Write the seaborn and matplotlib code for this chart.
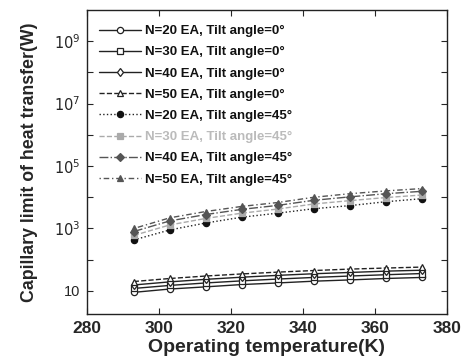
import numpy as np
import pandas as pd
import matplotlib
matplotlib.use("Agg")
import matplotlib.pyplot as plt
import seaborn as sns
from matplotlib.ticker import FixedLocator, FixedFormatter, NullLocator

sns.set_style("ticks")
plt.rcParams['font.family'] = ['Liberation Sans', 'DejaVu Sans']

temperature = [293, 303, 313, 323, 333, 343, 353, 363, 373]

n20_t0 = [9.0, 11.5, 13.5, 16.0, 18.0, 20.5, 22.5, 25.0, 27.0]
n30_t0 = [12.0, 15.0, 18.0, 21.0, 24.0, 27.0, 30.0, 33.0, 36.0]
n40_t0 = [15.5, 19.5, 23.5, 27.5, 31.5, 35.5, 39.0, 43.0, 46.0]
n50_t0 = [20.0, 25.0, 30.0, 35.0, 40.0, 45.0, 50.0, 54.0, 58.0]

n20_t45 = [430, 900, 1500, 2300, 3100, 4300, 5400, 7200, 9000]
n30_t45 = [600, 1300, 2100, 3100, 4200, 6100, 7800, 9800, 11800]
n40_t45 = [800, 1750, 2800, 4100, 5500, 8000, 10300, 13000, 15500]
n50_t45 = [1000, 2200, 3500, 5100, 6800, 10000, 13000, 16000, 19000]

labels = ["N=20 EA, Tilt angle=0\u00b0", "N=30 EA, Tilt angle=0\u00b0",
          "N=40 EA, Tilt angle=0\u00b0", "N=50 EA, Tilt angle=0\u00b0",
          "N=20 EA, Tilt angle=45\u00b0", "N=30 EA, Tilt angle=45\u00b0",
          "N=40 EA, Tilt angle=45\u00b0", "N=50 EA, Tilt angle=45\u00b0"]
series = [n20_t0, n30_t0, n40_t0, n50_t0, n20_t45, n30_t45, n40_t45, n50_t45]

styles = [
    dict(color='#222222', linestyle='-', marker='o', mfc='white', mec='#222222'),
    dict(color='#222222', linestyle='-', marker='s', mfc='white', mec='#222222'),
    dict(color='#222222', linestyle='-', marker='d', mfc='white', mec='#222222'),
    dict(color='#222222', linestyle='--', marker='^', mfc='white', mec='#222222'),
    dict(color='#222222', linestyle=':', marker='o', mfc='#111111', mec='#111111'),
    dict(color='#aaaaaa', linestyle='--', marker='s', mfc='#aaaaaa', mec='#aaaaaa'),
    dict(color='#555555', linestyle='-.', marker='D', mfc='#555555', mec='#555555'),
    dict(color='#555555', linestyle=(0, (1, 2, 4, 2)), marker='^', mfc='#555555', mec='#555555'),
]

fig = plt.figure(figsize=(4.68, 3.57), dpi=100)
ax = fig.add_axes([0.186, 0.120, 0.769, 0.852])

for lab, vals, st in zip(labels, series, styles):
    df = pd.DataFrame({"T": temperature, "Q": vals})
    sns.lineplot(data=df, x="T", y="Q", ax=ax, label=lab, linewidth=1.0,
                 markersize=4.5, markeredgewidth=0.9, **st)

ax.set_yscale('log')
ax.set_xlim(280, 380)
ax.set_ylim(1.8, 1e10)
ax.set_xticks([280, 300, 320, 340, 360, 380])
ax.yaxis.set_major_locator(FixedLocator([10.0**k for k in range(1, 10)]))
ax.yaxis.set_major_formatter(FixedFormatter(
    ["10", "", r"$10^3$", "", r"$10^5$", "", r"$10^7$", "", r"$10^9$"]))
ax.yaxis.set_minor_locator(NullLocator())

ax.tick_params(direction='in', top=True, right=True, length=4, width=0.8)
ax.tick_params(axis='x', labelsize=12.5, pad=5)
ax.tick_params(axis='y', labelsize=10.5, pad=5)
for t in ax.get_xticklabels():
    t.set_fontweight('bold')
for sp in ax.spines.values():
    sp.set_linewidth(1.0)
    sp.set_color('#222222')

ax.set_xlabel("Operating temperature(K)", fontsize=14, fontweight='bold', labelpad=2)
ax.set_ylabel("Capillary limit of heat transfer(W)", fontsize=12.8, fontweight='bold', labelpad=11)

leg = ax.legend(loc='upper left', bbox_to_anchor=(0.0, 0.99), frameon=False,
                prop={'size': 9.5, 'weight': 'bold'}, labelspacing=0.68,
                handlelength=3.2, handletextpad=0.3)
for i, t in enumerate(leg.get_texts()):
    t.set_color('#bbbbbb' if i == 5 else '#111111')

fig.savefig("out.png", dpi=100)
